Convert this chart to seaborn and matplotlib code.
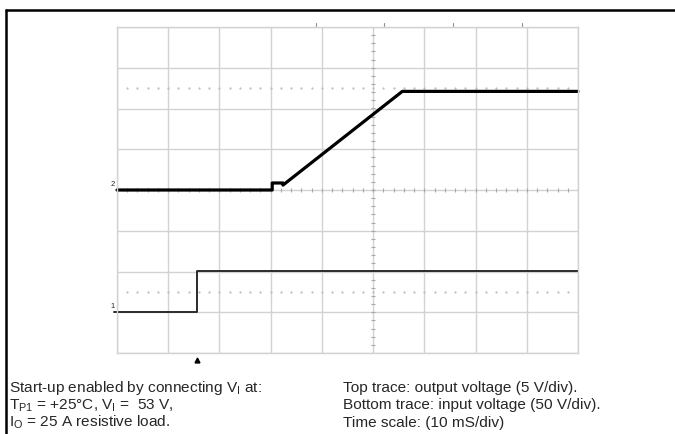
import numpy as np
import pandas as pd
import matplotlib
matplotlib.use("Agg")
import matplotlib.pyplot as plt
import matplotlib.transforms as mtransforms
from matplotlib.lines import Line2D
import seaborn as sns

# Scope capture: start-up of the 12 V output when V_I is connected
# time in ms from left edge of the screen, voltages in V
ch2_time = [0.0, 30.3, 30.3, 32.4, 32.4, 55.7, 90.0]
ch2_volt = [0.0, 0.0, 0.86, 0.86, 0.6, 12.1, 12.1]

ch1_time = [-0.6, 15.6, 15.6, 90.0]
ch1_volt = [0.0, 0.0, 50.3, 50.3]

# channel settings (V/div, offset in div)
ch2_scale, ch2_offset = 5.0, 0.0
ch1_scale, ch1_offset = 50.0, -3.0

time_per_div = 10.0
n_xdiv, n_ydiv = 9, 8
trigger_time = 15.6
top_marks = [38.9, 52.1, 65.6, 79.1]
cursor_levels = [2.5, -2.5]

left_lines = ["Start-up enabled by connecting V$_\\mathregular{I}$ at:",
              "T$_\\mathregular{P1}$ = +25\u00b0C, V$_\\mathregular{I}$ =  53 V,",
              "I$_\\mathregular{O}$ = 25 A resistive load."]
right_lines = ["Top trace: output voltage (5 V/div).",
               "Bottom trace: input voltage (50 V/div).",
               "Time scale: (10 mS/div)"]

df2 = pd.DataFrame({"t": ch2_time,
                    "y": np.array(ch2_volt) / ch2_scale + ch2_offset})
df1 = pd.DataFrame({"t": ch1_time,
                    "y": np.array(ch1_volt) / ch1_scale + ch1_offset})

sns.set_style("white")
plt.rcParams['font.family'] = ['Liberation Sans', 'DejaVu Sans']
plt.rcParams['mathtext.fontset'] = 'custom'
plt.rcParams['mathtext.rm'] = 'Liberation Sans'

fig = plt.figure(figsize=(6.75, 4.34), dpi=100)
ax = fig.add_axes([117 / 675, 1 - 353 / 434, 461 / 675, 326 / 434])

grid_col = '#d2d2d2'
ax.set_xlim(0, n_xdiv * time_per_div)
ax.set_ylim(-n_ydiv / 2, n_ydiv / 2)
ax.set_xticks(np.arange(0, n_xdiv * time_per_div + 1, time_per_div))
ax.set_yticks(np.arange(-n_ydiv / 2, n_ydiv / 2 + 1, 1))
ax.grid(True, color=grid_col, lw=1.0)
ax.tick_params(length=0, labelbottom=False, labelleft=False)
for s in ax.spines.values():
    s.set_color(grid_col)
    s.set_linewidth(1.0)

# minor ticks on the centre lines
cx = 50.0
ax.plot(np.arange(0, 90.1, 2.0), np.zeros(46), ls='none', marker='|',
        ms=3, mew=0.8, color='#a8a8a8')
ax.plot(np.full(41, cx), np.arange(-4, 4.01, 0.2), ls='none', marker='_',
        ms=3, mew=0.8, color='#a8a8a8')

# dotted cursor lines
for lv in cursor_levels:
    ax.plot(np.arange(2, 90, 2.0), np.full(44, lv), ls='none', marker='.',
            ms=1.3, color='#c0c0c0')

# traces
sns.lineplot(data=df2, x="t", y="y", ax=ax, color='black', lw=2.3,
             estimator=None, sort=False)
sns.lineplot(data=df1, x="t", y="y", ax=ax, color='#2b2b2b', lw=1.4,
             estimator=None, sort=False)
for ln in ax.lines[-2:]:
    ln.set_clip_on(False)
ax.set_xlabel(None)
ax.set_ylabel(None)

# channel markers and trigger arrow
trans = mtransforms.blended_transform_factory(ax.transAxes, ax.transData)
ax.text(-0.004, ch2_offset + 0.05, "2", transform=trans, fontsize=5.5,
        ha='right', va='bottom')
ax.text(-0.004, ch1_offset + 0.05, "1", transform=trans, fontsize=5.5,
        ha='right', va='bottom')
trans_x = mtransforms.blended_transform_factory(ax.transData, ax.transAxes)
ax.plot([trigger_time], [-0.02], marker='^', ms=3.5, color='black',
        transform=trans_x, clip_on=False)
for m in top_marks:
    ax.plot([m, m], [1.003, 1.012], color='#909090', lw=0.8,
            transform=trans_x, clip_on=False)

# outer frame
fig.add_artist(Line2D([6 / 675, 1], [1 - 10 / 434] * 2, color='black',
                      lw=1.8, transform=fig.transFigure))
fig.add_artist(Line2D([6 / 675] * 2, [0, 1 - 10 / 434], color='black',
                      lw=1.8, transform=fig.transFigure))

# captions (baselines in pixels from top)
ys = [392, 409.5, 426.5]
for txt, y in zip(left_lines, ys):
    fig.text(9 / 675, 1 - y / 434, txt, fontsize=11.1, va='baseline', ha='left')
for txt, y in zip(right_lines, ys):
    fig.text(343 / 675, 1 - y / 434, txt, fontsize=11.1, va='baseline', ha='left')

fig.savefig("out.png", dpi=100)
